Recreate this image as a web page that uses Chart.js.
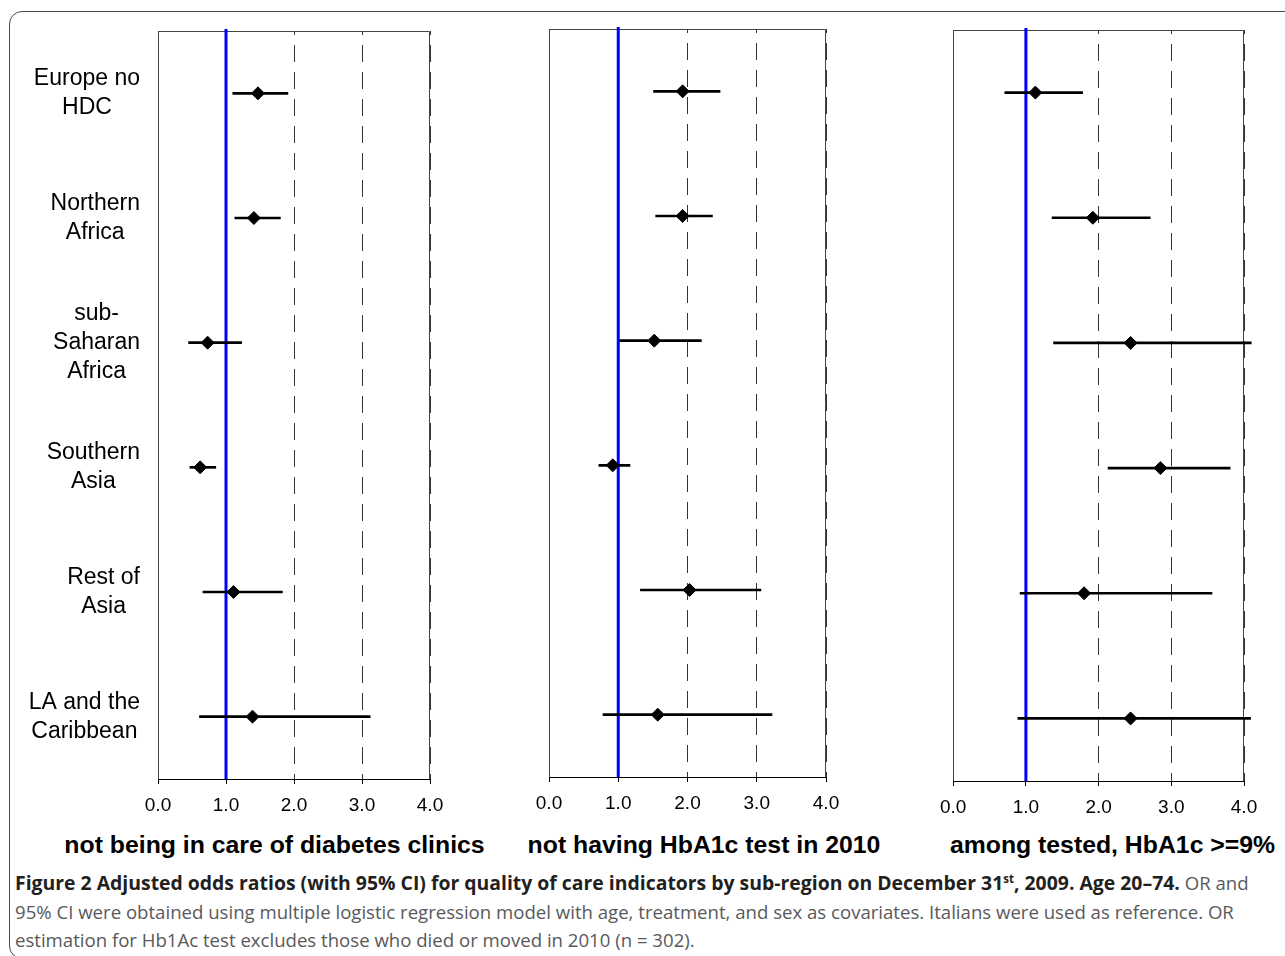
<!DOCTYPE html>
<html><head><meta charset="utf-8">
<script src="https://cdn.jsdelivr.net/npm/chart.js@4.4.1/dist/chart.umd.min.js"></script>
<style>
html,body{margin:0;padding:0;background:#fff;width:1285px;height:956px;overflow:hidden;position:relative;}
#frame{position:absolute;left:9px;top:11px;width:1400px;height:948px;box-sizing:border-box;border:1.5px solid #4a4a4a;border-radius:13px 0 0 13px;}
.cw{position:absolute;top:0;height:830px;}
.xt{position:absolute;top:831px;line-height:28px;font:bold 24.8px "Liberation Sans",Arial,sans-serif;white-space:nowrap;transform:translateX(-50%);color:#000;}
#cap{position:absolute;left:15px;top:869px;font-family:"Open Sans",sans-serif;font-size:18.6px;line-height:28.5px;color:#58595b;white-space:nowrap;}
#cap b{color:#231f20;font-weight:700;font-size:19.4px;}
#cap sup{font-size:11.5px;position:relative;top:-7px;vertical-align:baseline;line-height:0;}
</style>
</head>
<body>
<div id="frame"></div>
<div class="cw" style="left:0px;width:455px;"><canvas id="c1" width="455" height="830"></canvas></div>
<div class="cw" style="left:520px;width:331px;"><canvas id="c2" width="331" height="830"></canvas></div>
<div class="cw" style="left:930px;width:340px;"><canvas id="c3" width="340" height="830"></canvas></div>
<div class="xt" style="left:274.5px;">not being in care of diabetes clinics</div>
<div class="xt" style="left:704px;">not having HbA1c test in 2010</div>
<div class="xt" style="left:1112.5px;">among tested, HbA1c &gt;=9%</div>
<div id="cap"><b>Figure 2 Adjusted odds ratios (with 95% CI) for quality of care indicators by sub-region on December 31<sup>st</sup>, 2009. Age 20–74.</b> OR and<br>95% CI were obtained using multiple logistic regression model with age, treatment, and sex as covariates. Italians were used as reference. OR<br>estimation for Hb1Ac test excludes those who died or moved in 2010 (n = 302).</div>
<script>
const categories = [["Europe no","HDC"],["Northern","Africa"],["sub-","Saharan","Africa"],["Southern","Asia"],["Rest of","Asia"],["LA and the","Caribbean"]];
const clinicOR = [1.47,1.41,0.73,0.62,1.11,1.39];
const clinicLo = [1.10,1.13,0.45,0.47,0.66,0.61];
const clinicHi = [1.91,1.80,1.23,0.85,1.83,3.12];
const testOR = [1.93,1.93,1.52,0.92,2.03,1.57];
const testLo = [1.51,1.54,1.02,0.72,1.32,0.78];
const testHi = [2.47,2.36,2.20,1.17,3.06,3.22];
const hba1cOR = [1.13,1.92,2.44,2.85,1.80,2.44];
const hba1cLo = [0.71,1.36,1.38,2.13,0.92,0.89];
const hba1cHi = [1.78,2.71,4.10,3.81,3.56,4.09];
const xTicks = [0,1,2,3,4];
const refOR = 1;

const refPlugin = {
  id:'ref',
  beforeDatasetsDraw(chart){
    const {ctx, chartArea:a, scales:{x}} = chart;
    ctx.save();
    ctx.strokeStyle = '#444'; ctx.lineWidth = 1;
    ctx.beginPath();
    const l = Math.round(a.left)+0.5, r = Math.round(a.right)-0.5, t = Math.round(a.top)+0.5;
    ctx.moveTo(l, Math.round(a.bottom)); ctx.lineTo(l, t); ctx.lineTo(r, t); ctx.lineTo(r, Math.round(a.bottom));
    ctx.stroke();
    const px = x.getPixelForValue(refOR);
    ctx.strokeStyle = '#0000ff'; ctx.lineWidth = 3;
    ctx.beginPath(); ctx.moveTo(px, a.top-2); ctx.lineTo(px, a.bottom); ctx.stroke();
    ctx.restore();
  }
};
const labelPlugin = {
  id:'rowlabels',
  afterDraw(chart){
    const {ctx, scales:{y}} = chart;
    ctx.save();
    ctx.font = '23px "Liberation Sans", Arial, sans-serif';
    ctx.fillStyle = '#000'; ctx.textAlign = 'center'; ctx.textBaseline = 'middle';
    categories.forEach((lines, i) => {
      const y0 = y.getPixelForValue(i);
      const w = Math.max(...lines.map(s => ctx.measureText(s).width));
      const cx = 140 - w/2;
      lines.forEach((s, j) => ctx.fillText(s, cx, y0 + (j - (lines.length-1)/2) * 29));
    });
    ctx.restore();
  }
};

function makeChart(id, or, lo, hi, pad, withLabels){
  const plugins = [refPlugin];
  if (withLabels) plugins.push(labelPlugin);
  return new Chart(document.getElementById(id), {
    data:{
      labels: categories,
      datasets:[
        {type:'bar', indexAxis:'y', data: lo.map((v,i)=>[v, hi[i]]), backgroundColor:'#000', borderWidth:0, barThickness:2, clip:false, order:2},
        {type:'line', indexAxis:'y', data: or, showLine:false, pointStyle:'rectRot', pointRadius:6.5, pointBackgroundColor:'#000', pointBorderColor:'#000', pointBorderWidth:1, clip:false, order:1}
      ]
    },
    options:{
      indexAxis:'y', responsive:false, animation:false, events:[],
      layout:{padding:pad},
      plugins:{legend:{display:false}, tooltip:{enabled:false}},
      scales:{
        x:{type:'linear', position:'bottom', min:0, max:4,
           afterBuildTicks: s => { s.ticks = xTicks.map(v => ({value:v})); },
           afterFit: s => { s.height = 40; },
           ticks:{callback: v => Number(v).toFixed(1), color:'#000', font:{family:'"Liberation Sans", Arial, sans-serif', size:19}, padding:10, maxRotation:0, autoSkip:false},
           grid:{color:'#333', lineWidth:1, tickLength:5, tickColor:'#000', drawTicks:true},
           border:{display:true, color:'#000', width:1, dash:[17,10], dashOffset:13}
        },
        y:{type:'category', display:false, offset:true, grid:{display:false}}
      }
    },
    plugins
  });
}
makeChart('c1', clinicOR, clinicLo, clinicHi, {left:158, right:25, top:31, bottom:11}, true);
makeChart('c2', testOR, testLo, testHi, {left:29, right:25, top:29, bottom:13}, false);
makeChart('c3', hba1cOR, hba1cLo, hba1cHi, {left:23, right:26, top:30, bottom:9}, false);
</script>
</body></html>
